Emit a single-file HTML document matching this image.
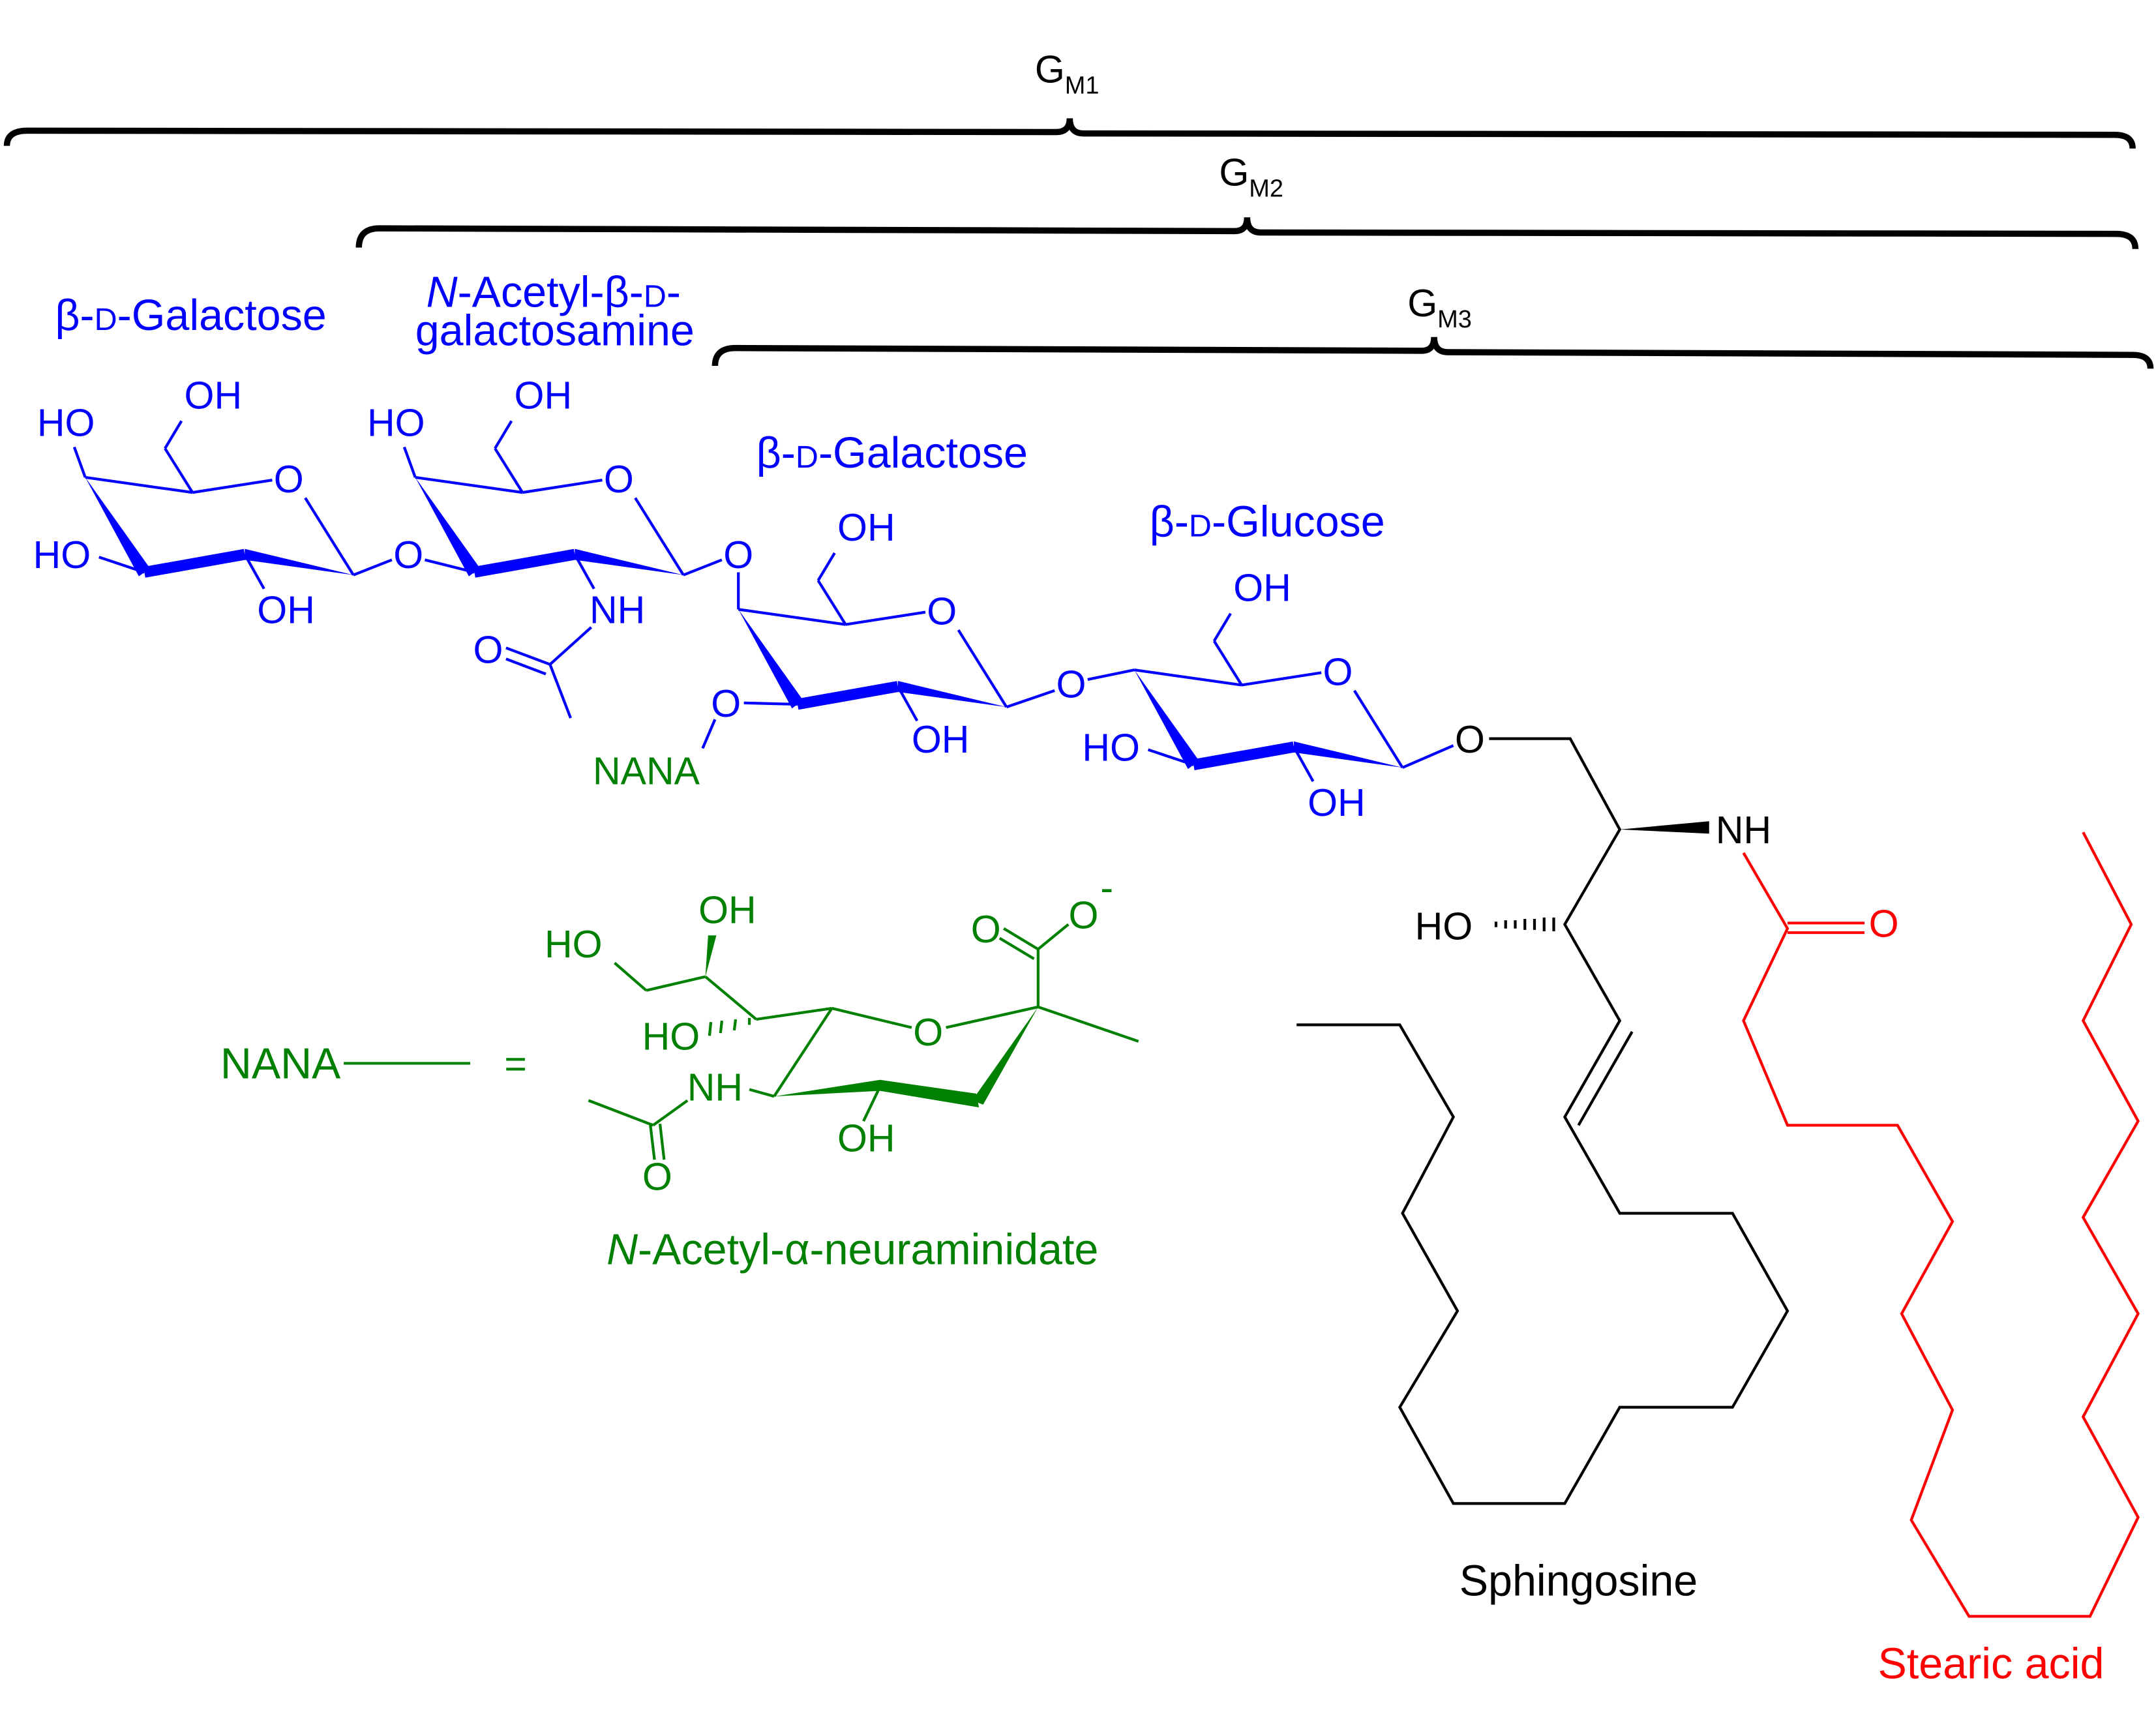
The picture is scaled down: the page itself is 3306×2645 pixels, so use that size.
<!DOCTYPE html>
<html><head><meta charset="utf-8"><style>
html,body{margin:0;padding:0;background:#fff;}
svg{display:block;}
text{font-family:"Liberation Sans",sans-serif;font-size:28px;}
.big{font-size:31.5px;}
</style></head><body>
<svg width="3306" height="2645" viewBox="0 0 1568 1254" preserveAspectRatio="none" xmlns="http://www.w3.org/2000/svg">
<g fill="none" stroke="#000" stroke-width="4.5">
<path d="M5,106 Q5,95 20,95 L768,96 Q778,96 778,86 Q778,97 788,97 L1538,98 Q1551,98 1551,108"/>
<path d="M261,180 Q261,166 276,166 L898,168 Q907,168 907,158 Q907,169 917,169 L1539,170 Q1553,170 1553,181"/>
<path d="M520,266 Q520,253 535,253 L1034,255 Q1043,255 1043,245 Q1043,256 1053,256 L1551,258 Q1564,258 1564,268"/>
</g>
<g text-anchor="middle">
<text x="776" y="60">G<tspan font-size="18" dy="8">M1</tspan></text>
<text x="910" y="135">G<tspan font-size="18" dy="8">M2</tspan></text>
<text x="1047" y="230">G<tspan font-size="18" dy="8">M3</tspan></text>
</g>
<g fill="#0000ff" class="big">
<text class="big" x="40" y="240">β-<tspan font-size="23">D</tspan>-Galactose</text>
<text class="big" x="310" y="223"><tspan font-style="italic">N</tspan>-Acetyl-β-<tspan font-size="23">D</tspan>-</text>
<text class="big" x="302" y="251">galactosamine</text>
<text class="big" x="550" y="340">β-<tspan font-size="23">D</tspan>-Galactose</text>
<text class="big" x="836" y="390">β-<tspan font-size="23">D</tspan>-Glucose</text>
</g>
<defs>
<g id="ring">
<g stroke="#0000ff" stroke-width="2" fill="none">
<line x1="62" y1="347" x2="140" y2="358"/>
<line x1="140" y1="358" x2="198" y2="349"/>
<line x1="222" y1="362" x2="257" y2="418"/>
<line x1="140" y1="358" x2="120" y2="326"/>
<line x1="120" y1="326" x2="132" y2="306"/>
<line x1="105" y1="416" x2="178" y2="403" stroke-width="8"/>
</g>
<polygon fill="#0000ff" points="62,347 101,419 109,413"/>
<polygon fill="#0000ff" points="178,399 178,407 257,418"/>
<text x="155" y="297" text-anchor="middle" fill="#0000ff">OH</text>
<text x="210" y="358" text-anchor="middle" fill="#0000ff">O</text>
</g>
</defs>
<use href="#ring"/>
<use href="#ring" transform="translate(240,0)"/>
<use href="#ring" transform="translate(475,96)"/>
<use href="#ring" transform="translate(763,140)"/>
<g stroke="#0000ff" stroke-width="2" fill="none">
<line x1="62" y1="347" x2="54" y2="325"/>
<line x1="105" y1="416" x2="72" y2="405"/>
<line x1="178" y1="403" x2="192" y2="428"/>
<line x1="257" y1="418" x2="285" y2="407"/>
<line x1="309" y1="407" x2="345" y2="416"/>
<line x1="302" y1="347" x2="294" y2="325"/>
<line x1="418" y1="403" x2="432" y2="428"/>
<line x1="497" y1="418" x2="525" y2="407"/>
<line x1="430" y1="456" x2="400" y2="483"/>
<line x1="400" y1="483" x2="415" y2="522"/>
<line x1="400" y1="483" x2="368" y2="471"/>
<line x1="397" y1="490" x2="368" y2="479"/>
<line x1="537" y1="443" x2="537" y2="416"/>
<line x1="580" y1="512" x2="541" y2="511"/>
<line x1="653" y1="499" x2="667" y2="524"/>
<line x1="520" y1="523" x2="511" y2="544"/>
<line x1="732" y1="514" x2="767" y2="502"/>
<line x1="791" y1="494" x2="825" y2="487"/>
<line x1="868" y1="556" x2="835" y2="545"/>
<line x1="941" y1="543" x2="955" y2="568"/>
<line x1="1020" y1="558" x2="1057" y2="542"/>
</g>
<g fill="#0000ff">
<text x="48" y="317" text-anchor="middle">HO</text>
<text x="45" y="413" text-anchor="middle">HO</text>
<text x="208" y="453" text-anchor="middle">OH</text>
<text x="297" y="413" text-anchor="middle">O</text>
<text x="288" y="317" text-anchor="middle">HO</text>
<text x="449" y="453" text-anchor="middle">NH</text>
<text x="355" y="482" text-anchor="middle">O</text>
<text x="537" y="413" text-anchor="middle">O</text>
<text x="528" y="521" text-anchor="middle">O</text>
<text x="684" y="547" text-anchor="middle">OH</text>
<text x="779" y="507" text-anchor="middle">O</text>
<text x="808" y="553" text-anchor="middle">HO</text>
<text x="972" y="593" text-anchor="middle">OH</text>
</g>
<text x="470" y="570" text-anchor="middle" fill="#008000" font-size="30">NANA</text>
<text x="1069" y="547" text-anchor="middle">O</text>
<g stroke="#000" stroke-width="2" fill="none">
<polyline points="1083,537 1142,537 1178,603 1138,672 1178,742 1138,812 1178,882 1260,882 1300,953 1260,1023 1178,1023 1138,1093 1057,1093 1018,1023 1060,953 1020,882 1057,812 1018,745 943,745"/>
<line x1="1187" y1="750" x2="1148" y2="818"/>
<line x1="1130" y1="667" x2="1130" y2="677"/><line x1="1123" y1="667" x2="1123" y2="677"/><line x1="1116" y1="668" x2="1116" y2="676"/><line x1="1109" y1="668" x2="1109" y2="676"/><line x1="1102" y1="669" x2="1102" y2="675"/><line x1="1095" y1="669" x2="1095" y2="675"/><line x1="1088" y1="670" x2="1088" y2="674"/>
</g>
<polygon points="1178,603 1243,597 1243,606" fill="#000"/>
<text x="1268" y="613" text-anchor="middle">NH</text>
<text x="1050" y="683" text-anchor="middle">HO</text>
<text class="big" x="1148" y="1160" text-anchor="middle">Sphingosine</text>
<g stroke="#ff0000" stroke-width="2" fill="none">
<polyline points="1268,620 1300,675 1268,742 1300,818 1380,818 1420,888 1383,955 1420,1025 1390,1105 1432,1175 1520,1175 1555,1103 1515,1030 1555,955 1515,885 1555,815 1515,742 1550,672 1515,605"/>
<line x1="1300" y1="671" x2="1356" y2="671"/>
<line x1="1300" y1="678" x2="1356" y2="678"/>
</g>
<text x="1370" y="681" text-anchor="middle" fill="#ff0000">O</text>
<text class="big" x="1448" y="1220" text-anchor="middle" fill="#ff0000">Stearic acid</text>
<g fill="#008000">
<text class="big" x="204" y="784" text-anchor="middle">NANA</text>
<text x="375" y="783" text-anchor="middle">=</text>
<text x="417" y="696" text-anchor="middle">HO</text>
<text x="529" y="671" text-anchor="middle">OH</text>
<text x="488" y="763" text-anchor="middle">HO</text>
<text x="675" y="760" text-anchor="middle">O</text>
<text x="717" y="685" text-anchor="middle">O</text>
<text x="788" y="675" text-anchor="middle">O</text>
<text x="805" y="655" text-anchor="middle" font-size="18">-</text>
<text x="520" y="800" text-anchor="middle">NH</text>
<text x="630" y="837" text-anchor="middle">OH</text>
<text x="478" y="865" text-anchor="middle">O</text>
<text class="big" x="620" y="919" text-anchor="middle"><tspan font-style="italic">N</tspan>-Acetyl-α-neuraminidate</text>
</g>
<g stroke="#008000" stroke-width="2" fill="none">
<line x1="250" y1="773" x2="342" y2="773"/>
<line x1="605" y1="733" x2="663" y2="747"/>
<line x1="688" y1="747" x2="755" y2="732"/>
<line x1="755" y1="732" x2="755" y2="690"/>
<line x1="755" y1="690" x2="730" y2="675"/>
<line x1="752" y1="697" x2="727" y2="682"/>
<line x1="755" y1="690" x2="777" y2="672"/>
<line x1="755" y1="732" x2="828" y2="757"/>
<line x1="605" y1="733" x2="563" y2="797"/>
<line x1="563" y1="797" x2="545" y2="792"/>
<line x1="640" y1="790" x2="628" y2="815"/>
<line x1="500" y1="800" x2="475" y2="818"/>
<line x1="475" y1="818" x2="428" y2="800"/>
<line x1="473" y1="818" x2="476" y2="843"/>
<line x1="480" y1="817" x2="483" y2="843"/>
<line x1="605" y1="733" x2="550" y2="741"/>
<line x1="550" y1="741" x2="513" y2="710"/>
<line x1="513" y1="710" x2="470" y2="720"/>
<line x1="470" y1="720" x2="447" y2="700"/>
<line x1="545" y1="740" x2="545" y2="745"/>
<line x1="535" y1="741" x2="534" y2="749"/>
<line x1="525" y1="742" x2="524" y2="751"/>
<line x1="517" y1="743" x2="516" y2="753"/>
</g>
<polygon fill="#008000" points="755,732 707,800 715,803"/>
<polygon fill="#008000" points="563,797 640,785 710,795 712,805 640,793"/>
<polygon fill="#008000" points="513,710 515,680 521,680"/>
</svg>
</body></html>
